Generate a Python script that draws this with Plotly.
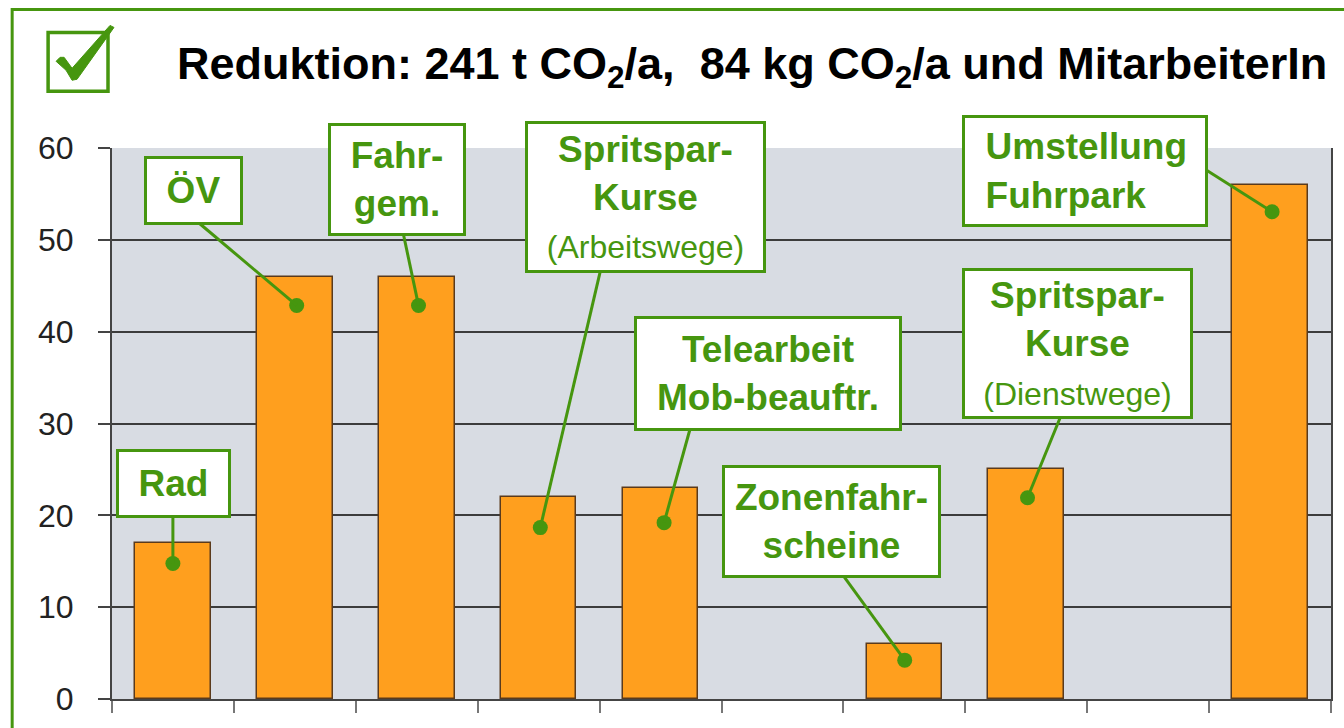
import plotly.graph_objects as go

# ---- data ----
categories = ["Rad", "ÖV", "Fahrgem.", "Spritspar-Kurse (Arbeitswege)", "Telearbeit Mob-beauftr.",
              "", "Zonenfahrscheine", "Spritspar-Kurse (Dienstwege)", "", "Umstellung Fuhrpark"]
slots = [1, 2, 3, 4, 5, 6, 7, 8, 9, 10]
values = [17, 46, 46, 22, 23, None, 6, 25, None, 56]
y_ticks = [0, 10, 20, 30, 40, 50, 60]

GREEN = "#46960F"
FONT = "Liberation Sans, Arial, sans-serif"

# plot area in pixels (layout geometry)
L, R, T, B = 112, 1333, 148, 701
W, H = 1344, 728
slot_px = (R - L) / 10.0

def X(px):
    return 0.5 + (px - L) / slot_px

def Y(py):
    return (B - py) / ((B - T) / 60.0)

def PX(px):
    return (px - L) / (R - L)

def PY(py):
    return (B - py) / (B - T)

fig = go.Figure()
fig.add_trace(go.Bar(
    x=slots, y=values, width=0.62,
    marker=dict(color="#FF9F1E", line=dict(color="#5A3A1C", width=1.5)),
    hoverinfo="skip", showlegend=False))

SMALL = "<span style='font-size:32px'>%s</span>"
IND = "\u00a0\u00a0"
# callout boxes: text, box (left, top, right, bottom) px, line start px, dot px, align
callouts = [
    ("<b>Rad</b>", (118, 452, 230, 518), (173, 518), (173, 565), "center"),
    ("<b>ÖV</b>", (146, 158, 242, 224), (200, 224), (297, 306), "center"),
    ("<b>Fahr-</b><br><b>gem.</b>", (330, 125, 465, 235), (404, 235), (419, 306), "center"),
    ("<b>Spritspar-</b><br><b>Kurse</b><br>" + SMALL % "(Arbeitswege)",
     (527, 123, 765, 272), (601, 272), (541, 529), "center"),
    ("<b>Telearbeit</b><br><b>Mob-beauftr.</b>", (637, 318, 902, 430), (691, 430), (665, 524), "center"),
    ("<b>Zonenfahr-</b><br><b>scheine</b>", (725, 468, 941, 578), (845, 578), (906, 662), "center"),
    ("<b>Spritspar-</b><br><b>Kurse</b><br>" + SMALL % "(Dienstwege)",
     (965, 270, 1193, 418), (1062, 418), (1029, 499), "center"),
    ("<b>" + IND + "Umstellung</b><br><b>" + IND + "Fuhrpark</b>",
     (965, 117, 1208, 226), (1208, 170), (1274, 212), "left"),
]

shapes = []
annotations = []
dot_x, dot_y = [], []
for text, (bl, bt, br, bb), (sx, sy), (dx, dy), align in callouts:
    shapes.append(dict(type="line", xref="x", yref="y", x0=X(sx), y0=Y(sy), x1=X(dx), y1=Y(dy),
                       line=dict(color=GREEN, width=3), layer="above"))
    dot_x.append(X(dx))
    dot_y.append(Y(dy))
    annotations.append(dict(
        text=text, xref="x", yref="y", x=X((bl + br) / 2), y=Y((bt + bb) / 2),
        xanchor="center", yanchor="middle", showarrow=False,
        width=br - bl - 3, height=bb - bt - 3, borderpad=0,
        align=align, valign="middle",
        bgcolor="white", bordercolor=GREEN, borderwidth=3,
        font=dict(family=FONT, size=37, color=GREEN)))

fig.add_trace(go.Scatter(x=dot_x, y=dot_y, mode="markers", cliponaxis=False,
                         marker=dict(color=GREEN, size=15), hoverinfo="skip", showlegend=False))

# outer frame
shapes.append(dict(type="rect", xref="paper", yref="paper",
                   x0=PX(12), y0=PY(740), x1=PX(1360), y1=PY(9),
                   line=dict(color=GREEN, width=3), layer="above"))
# check box
shapes.append(dict(type="rect", xref="paper", yref="paper",
                   x0=PX(48), y0=PY(91), x1=PX(108), y1=PY(32),
                   line=dict(color=GREEN, width=3.5), layer="above"))
check_pts = [(56, 61), (60, 57), (64, 57), (72, 68), (110, 25), (114, 27), (77, 79), (72, 80), (66, 70)]
path = "M " + " L ".join(f"{PX(a):.5f},{PY(b):.5f}" for a, b in check_pts) + " Z"
shapes.append(dict(type="path", xref="paper", yref="paper", path=path,
                   fillcolor=GREEN, line=dict(color=GREEN, width=1), layer="above"))

annotations.append(dict(
    text="<b>Reduktion: 241 t CO<sub>2</sub>/a,\u00a0\u00a084 kg CO<sub>2</sub>/a und MitarbeiterIn</b>",
    xref="paper", yref="paper", x=PX(175), y=PY(66), xanchor="left", yanchor="middle",
    showarrow=False, font=dict(family=FONT, size=45, color="black")))

fig.update_layout(
    width=W, height=H, autosize=False,
    margin=dict(l=L, r=W - R, t=T, b=H - B, pad=0),
    paper_bgcolor="white", plot_bgcolor="#D8DCE3",
    shapes=shapes, annotations=annotations, showlegend=False, bargap=0,
    xaxis=dict(range=[0.5, 10.5], tickmode="array", tickvals=[s - 0.5 for s in slots] + [10.5],
               showticklabels=False, ticks="outside", ticklen=12, tickwidth=2, tickcolor="#777",
               showgrid=False, zeroline=False, showline=True, linecolor="#444", linewidth=2,
               mirror=False, fixedrange=True),
    yaxis=dict(range=[0, 60], tickmode="array", tickvals=y_ticks, ticks="outside", ticklen=12,
               tickwidth=2, tickcolor="#444", showgrid=True, gridcolor="#3C3C3C", gridwidth=2,
               zeroline=False, showline=True, linecolor="#444", linewidth=2, mirror=True,
               ticklabelstandoff=18,
               tickfont=dict(family=FONT, size=32, color="#222"), fixedrange=True),
)

fig.write_html("out.html", config={"displayModeBar": False},
               post_script="document.body.style.margin='0';document.body.style.overflow='hidden';")
